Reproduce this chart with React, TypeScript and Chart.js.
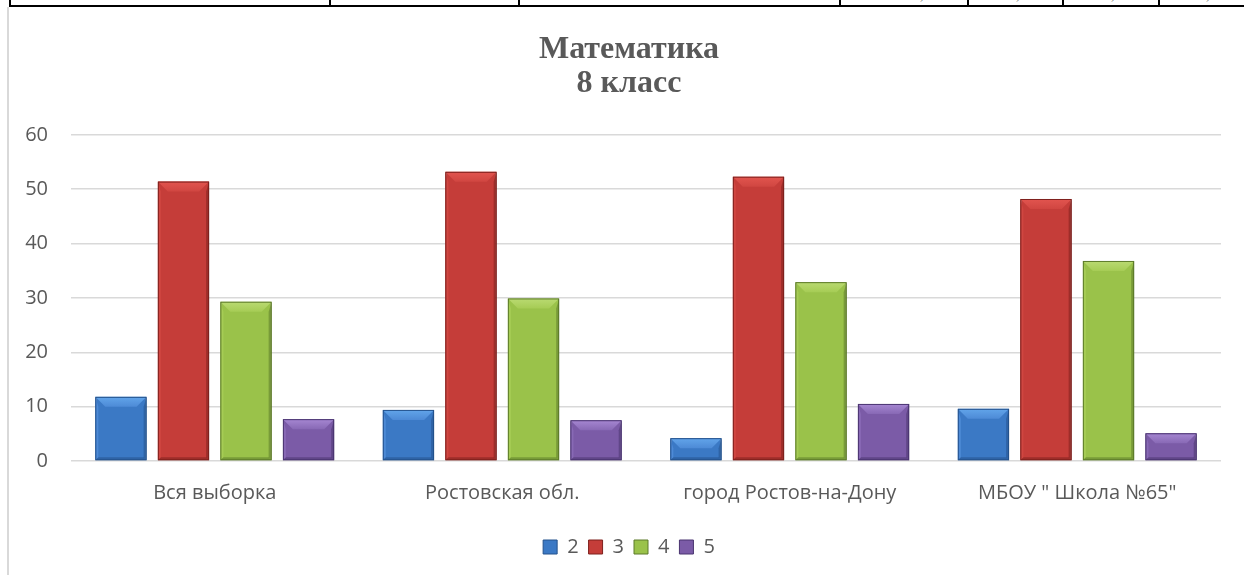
import React, { useEffect, useRef } from "react";
import { Chart, registerables } from "chart.js";

Chart.register(...registerables);

const categories = ["Вся выборка", "Ростовская обл.", "город Ростов-на-Дону", 'МБОУ " Школа №65"'];
const seriesNames = ["2", "3", "4", "5"];
const grade2 = [11.8, 9.4, 4.2, 9.6];
const grade3 = [51.4, 53.2, 52.3, 48.2];
const grade4 = [29.3, 29.9, 32.9, 36.8];
const grade5 = [7.7, 7.5, 10.5, 5.1];
const yTicks = [0, 10, 20, 30, 40, 50, 60];
const titleLines = ["Математика", "8 класс"];

const palette = [
  { body: "#3b79c5", top: "#62a5ea", side: "#4d8ad6", dark: "#24528c" },
  { body: "#c53d39", top: "#e2554f", side: "#d04641", dark: "#7e201d" },
  { body: "#9ac24a", top: "#bada72", side: "#a6cc55", dark: "#5d7b2a" },
  { body: "#7b5ba7", top: "#a687d2", side: "#8869b5", dark: "#4a3470" },
];

const bevelPlugin = {
  id: "bevel",
  afterDatasetsDraw(chart: any) {
    const ctx = chart.ctx;
    chart.data.datasets.forEach((ds: any, di: number) => {
      const meta = chart.getDatasetMeta(di);
      const c = palette[di];
      meta.data.forEach((el: any) => {
        const p = el.getProps(["x", "y", "base", "width"], true);
        const l = p.x - p.width / 2;
        const r = p.x + p.width / 2;
        const t = p.y;
        const b = p.base;
        const h = b - t;
        const bv = Math.min(10, h / 2, p.width / 2);
        const sv = Math.min(3, h / 2);
        ctx.save();
        ctx.fillStyle = c.side;
        ctx.beginPath();
        ctx.moveTo(l, t);
        ctx.lineTo(l + sv, t + bv);
        ctx.lineTo(l + sv, b - sv);
        ctx.lineTo(l, b);
        ctx.closePath();
        ctx.fill();
        ctx.fillStyle = c.dark;
        ctx.globalAlpha = 0.55;
        ctx.beginPath();
        ctx.moveTo(r, t);
        ctx.lineTo(r - sv, t + bv);
        ctx.lineTo(r - sv, b - sv);
        ctx.lineTo(r, b);
        ctx.closePath();
        ctx.fill();
        ctx.beginPath();
        ctx.moveTo(l, b);
        ctx.lineTo(l + sv, b - sv);
        ctx.lineTo(r - sv, b - sv);
        ctx.lineTo(r, b);
        ctx.closePath();
        ctx.fill();
        ctx.globalAlpha = 1;
        const g = ctx.createLinearGradient(0, t, 0, t + bv);
        g.addColorStop(0, c.top);
        g.addColorStop(1, c.side);
        ctx.fillStyle = g;
        ctx.beginPath();
        ctx.moveTo(l, t);
        ctx.lineTo(r, t);
        ctx.lineTo(r - bv, t + bv);
        ctx.lineTo(l + bv, t + bv);
        ctx.closePath();
        ctx.fill();
        ctx.strokeStyle = c.dark;
        ctx.lineWidth = 1;
        ctx.strokeRect(l + 0.5, t + 0.5, p.width - 1, h - 1);
        ctx.restore();
      });
    });
  },
};

export default function App() {
  const ref = useRef<HTMLCanvasElement | null>(null);

  useEffect(() => {
    if (!ref.current) return;
    const values = [grade2, grade3, grade4, grade5];
    const chart = new Chart(ref.current, {
      type: "bar",
      data: {
        labels: categories,
        datasets: seriesNames.map((name, i) => ({
          label: name,
          data: values[i],
          backgroundColor: palette[i].body,
          borderColor: palette[i].dark,
          borderWidth: 1,
          categoryPercentage: 0.87,
          barPercentage: 0.82,
          yAxisID: "y",
        })),
      },
      options: {
        animation: false,
        responsive: true,
        maintainAspectRatio: false,
        layout: { padding: { left: 0, right: 0, top: 0, bottom: 8 } },
        plugins: {
          tooltip: { enabled: false },
          title: {
            display: true,
            text: titleLines,
            color: "#595959",
            font: { family: "'Liberation Serif'", size: 32, weight: "bold", lineHeight: 1.06 },
            padding: { top: 25, bottom: 34 },
          },
          legend: {
            position: "bottom",
            labels: {
              color: "#595959",
              font: { family: "'Open Sans'", size: 20 },
              boxWidth: 14,
              boxHeight: 14,
              padding: 10,
              generateLabels: (chart: any) =>
                chart.data.datasets.map((ds: any, i: number) => ({
                  text: ds.label,
                  fillStyle: palette[i].body,
                  strokeStyle: palette[i].dark,
                  lineWidth: 1,
                  fontColor: "#595959",
                  datasetIndex: i,
                  hidden: false,
                })),
            },
          },
        },
        scales: {
          x: {
            grid: { display: false },
            border: { display: false },
            afterFit: (scale: any) => {
              scale.height += 10;
            },
            ticks: {
              color: "#595959",
              font: { family: "'Open Sans'", size: 20 },
              padding: 12,
              maxRotation: 0,
            },
          },
          y: {
            min: yTicks[0],
            max: yTicks[yTicks.length - 1],
            afterBuildTicks: (scale: any) => {
              scale.ticks = yTicks.map((v) => ({ value: v }));
            },
            afterFit: (scale: any) => {
              scale.width = 57;
            },
            grid: { color: "#d9d9d9", lineWidth: 1.5, drawTicks: false },
            border: { display: false },
            ticks: {
              color: "#595959",
              font: { family: "'Open Sans'", size: 20 },
              padding: 23,
            },
          },
          yRight: {
            type: "linear",
            position: "right",
            min: 0,
            max: 60,
            grid: { display: false, drawTicks: false },
            border: { display: false },
            ticks: { display: false },
            afterFit: (scale: any) => {
              scale.width = 23;
            },
          },
        },
      },
      plugins: [bevelPlugin],
    });
    return () => chart.destroy();
  }, []);

  const vlines = [9, 329, 518, 839, 967, 1062, 1158];
  const commas = [920, 1016, 1111, 1206];

  return (
    <div style={{ position: "absolute", left: 0, top: 0, width: 1244, height: 575, background: "#fff", overflow: "hidden" }}>
      <div style={{ position: "absolute", left: 9, top: 5, width: 1235, height: 2, background: "#000" }} />
      {vlines.map((x) => (
        <div key={x} style={{ position: "absolute", left: x, top: 0, width: 2, height: 6, background: "#000" }} />
      ))}
      {commas.map((x) => (
        <div key={"c" + x} style={{ position: "absolute", left: x, top: -12, fontFamily: "'Liberation Serif'", fontSize: 14, color: "#555" }}>,</div>
      ))}
      <div style={{ position: "absolute", left: 7, top: 7, width: 2, height: 568, background: "#d9d9d9" }} />
      <div style={{ position: "absolute", left: 14, top: 8, width: 1230, height: 567 }}>
        <canvas ref={ref} />
      </div>
    </div>
  );
}
